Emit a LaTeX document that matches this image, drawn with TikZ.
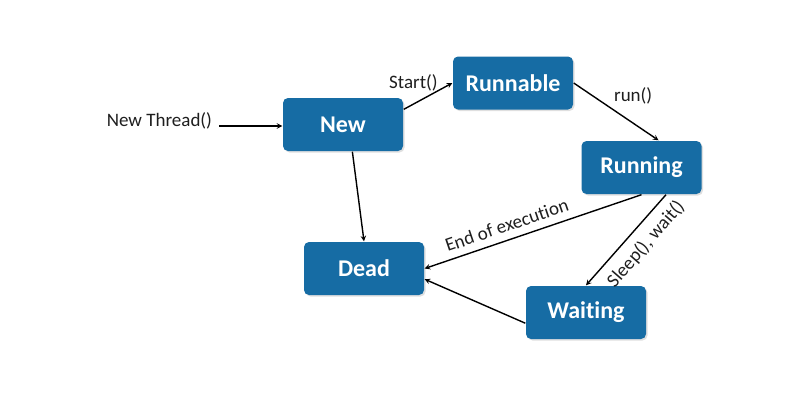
\documentclass[tikz,border=0pt]{standalone}
\usepackage{fontspec}
\setmainfont{Carlito}[Ligatures=NoCommon]
\usetikzlibrary{shadows}
\definecolor{stateblue}{RGB}{22,108,164}
\definecolor{labelgray}{RGB}{30,30,30}
\begin{document}
\begin{tikzpicture}[x=1pt, y=-1pt, >=stealth, line width=1.4pt,
    state/.style={fill=stateblue, rounded corners=5pt, minimum width=120pt, minimum height=53pt,
      text=white, font=\fontsize{24}{28}\selectfont\bfseries,
      drop shadow={opacity=0.25, shadow xshift=1.5pt, shadow yshift=-1.5pt}},
    lbl/.style={text=labelgray, font=\fontsize{19}{22}\selectfont}]
  % 1. 画布
  \useasboundingbox (0,0) rectangle (800,400);

  % 2. 状态
  \node[state] (new) at (343,124.5) {New};
  \node[state] (runnable) at (513,83) {Runnable};
  \node[state] (running) at (641.5,167.5) {Running};
  \node[state] (dead) at (364,268.5) {Dead};
  \node[state] (waiting) at (586,312.5) {Waiting};
  \node[lbl, anchor=east] (start) at (216,121) {New Thread()};
  \node[lbl, rotate=49] (sleeplbl) at (646,244) {Sleep(), wait()};

  % 3. 转换
  \draw[->] (start.east) ++(3,5) coordinate (s0) (s0) -- (new.west |- s0);
  \draw[->] (new.14) -- node[lbl, above=9pt, pos=0.2] {Start()} (runnable.west);
  \draw[->] (runnable.east) -- node[lbl, above right, pos=0.5, xshift=-6pt, yshift=3pt] {run()} (running.58);
  \draw[->] (new.-71) -- (dead.north);
  \draw[->] (running.south) -- node[lbl, sloped, above=4pt, pos=0.6] {End of execution} (dead.east);
  \draw[->] (running.-48) -- (waiting.north);
  \draw[->] (waiting.190) -- (dead.-10);
\end{tikzpicture}
\end{document}
